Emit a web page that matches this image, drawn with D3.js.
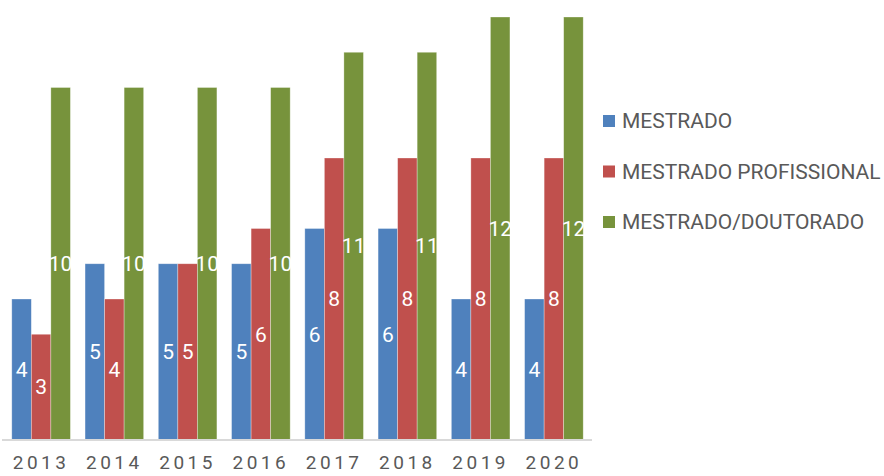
<!DOCTYPE html>
<html>
<head>
<meta charset="utf-8">
<script src="https://cdn.jsdelivr.net/npm/d3@7"></script>
<style>
  body { margin: 0; background: #fff; }
  text { font-family: Roboto, sans-serif; }
</style>
</head>
<body>
<div id="chart"></div>
<script>
const width = 884, height = 476;

const years = ["2013", "2014", "2015", "2016", "2017", "2018", "2019", "2020"];
const seriesNames = ["MESTRADO", "MESTRADO PROFISSIONAL", "MESTRADO/DOUTORADO"];
const mestrado = [4, 5, 5, 5, 6, 6, 4, 4];
const profissional = [3, 4, 5, 6, 8, 8, 8, 8];
const doutorado = [10, 10, 10, 10, 11, 11, 12, 12];
const colors = ["#4F81BD", "#C0504D", "#77933C"];

const seriesValues = [mestrado, profissional, doutorado];

const svg = d3.select("#chart").append("svg")
    .attr("width", width)
    .attr("height", height);

const x = d3.scaleBand()
    .domain(years)
    .range([3, 592])
    .paddingInner(0.2)
    .paddingOuter(0.12);

const xSub = d3.scaleBand()
    .domain(d3.range(seriesNames.length))
    .range([0, x.bandwidth()]);

const y = d3.scaleLinear()
    .domain([0, 12])
    .range([440, 17]);

// flat list of bars
const bars = [];
years.forEach((yr, i) => {
    seriesValues.forEach((vals, s) => {
        bars.push({ year: yr, s: s, value: vals[i] });
    });
});

svg.append("g")
    .selectAll("rect")
    .data(bars)
    .enter().append("rect")
    .attr("x", d => x(d.year) + xSub(d.s))
    .attr("y", d => y(d.value))
    .attr("width", xSub.bandwidth())
    .attr("height", d => y(0) - y(d.value))
    .attr("fill", d => colors[d.s])
    .attr("stroke", "rgba(255,255,255,0.45)")
    .attr("stroke-width", 0.7);

// data labels
svg.append("g")
    .selectAll("text")
    .data(bars)
    .enter().append("text")
    .attr("x", d => x(d.year) + xSub(d.s) + xSub.bandwidth() / 2)
    .attr("y", d => (y(d.value) + y(0)) / 2)
    .attr("dy", "0.35em")
    .attr("text-anchor", "middle")
    .attr("fill", "#fff")
    .style("font-size", "21px")
    .text(d => d.value);

// x axis
const xAxis = svg.append("g")
    .attr("transform", `translate(0,${y(0)})`)
    .call(d3.axisBottom(x).tickSize(0).tickPadding(16));
xAxis.select(".domain")
    .attr("d", "M2,0H592")
    .attr("stroke", "#d9d9d9")
    .attr("stroke-width", 2);
xAxis.selectAll("text")
    .attr("fill", "#595959")
    .style("font-size", "19px")
    .style("letter-spacing", "3.5px")
    .style("font-family", "Roboto, sans-serif");

// legend
const legend = svg.selectAll(".legend")
    .data(seriesNames)
    .enter().append("g")
    .attr("class", "legend")
    .attr("transform", (d, i) => `translate(603,${121 + i * 50.5})`);

legend.append("rect")
    .attr("y", -6)
    .attr("width", 12)
    .attr("height", 12)
    .attr("fill", (d, i) => colors[i]);

legend.append("text")
    .attr("x", 19)
    .attr("dy", "0.35em")
    .attr("fill", "#595959")
    .style("font-size", "21px")
    .text(d => d);
</script>
</body>
</html>
